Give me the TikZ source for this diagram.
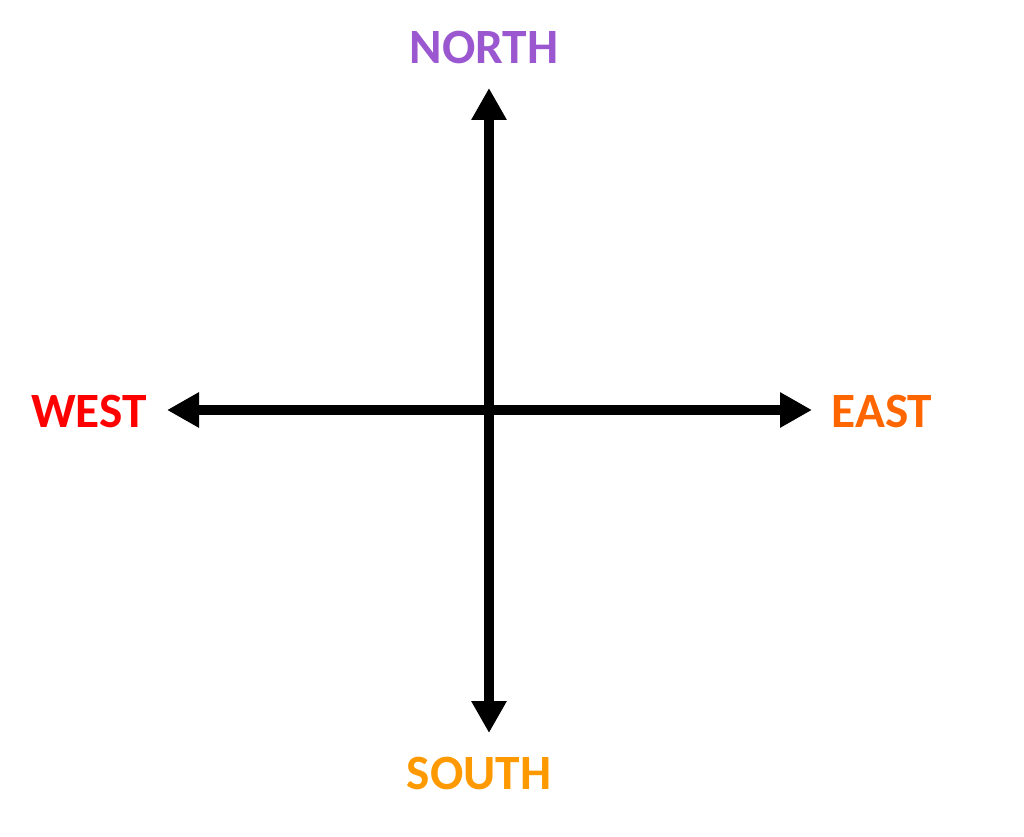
\documentclass[tikz,border=0pt]{standalone}
\usepackage{fontspec}
\setmainfont{Carlito}
\usetikzlibrary{arrows.meta}
\definecolor{northcol}{RGB}{155,87,208}
\definecolor{westcol}{RGB}{255,0,0}
\definecolor{eastcol}{RGB}{255,102,0}
\definecolor{southcol}{RGB}{255,153,0}
\tikzset{
  compass/.style={line width=7.5pt, {Triangle[length=24pt,width=25pt]}-{Triangle[length=24pt,width=25pt]}},
  dirlabel/.style={inner sep=0pt, font=\fontsize{37}{40}\selectfont\bfseries}
}

\begin{document}
\begin{tikzpicture}[x=0.75pt,y=-0.75pt]

\useasboundingbox (0,0) rectangle (1024,837);

\coordinate (N) at (489,88);
\coordinate (S) at (489,733);
\coordinate (W) at (167,410);
\coordinate (E) at (812,410);

\draw[compass] (W)--(E);
\draw[compass] (S)--(N);

\node[dirlabel, text=northcol] (north) at (484,47) {NORTH};
\node[dirlabel, text=westcol] (west) at (89,411) {WEST};
\node[dirlabel, text=eastcol] (east) at (882,411) {EAST};
\node[dirlabel, text=southcol] (south) at (479,774) {SOUTH};

\end{tikzpicture}
\end{document}
